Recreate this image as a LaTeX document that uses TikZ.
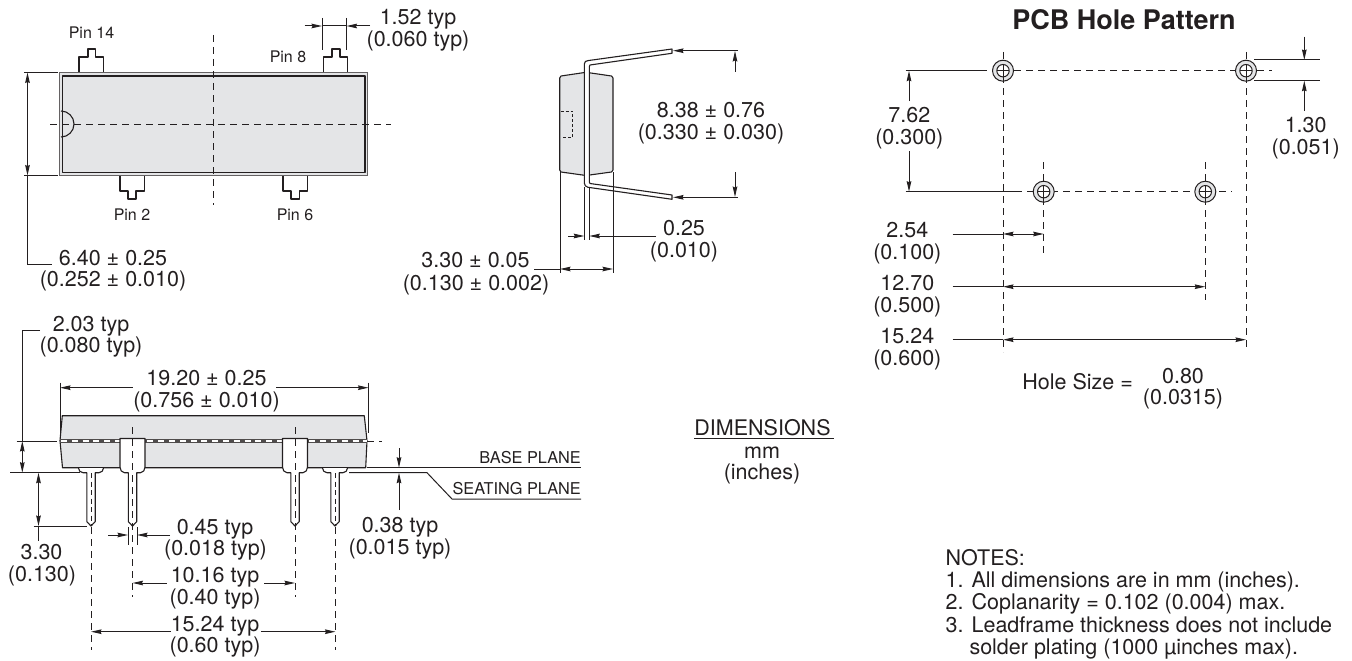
\documentclass[tikz,border=0pt]{standalone}
\usepackage{fontspec}
\setmainfont{TeX Gyre Heros}
\usetikzlibrary{arrows.meta}
\definecolor{bodyfill}{HTML}{E4E5E7}
\definecolor{ink}{HTML}{231F20}
\tikzset{
 every path/.style={ink},
 dim/.style={draw=ink,line width=1pt,-{Stealth[length=10.5pt,width=4.6pt,inset=1pt]}},
 dimboth/.style={draw=ink,line width=1pt,{Stealth[length=10.5pt,width=4.6pt,inset=1pt]}-{Stealth[length=10.5pt,width=4.6pt,inset=1pt]}},
 thin line/.style={draw=ink,line width=1pt},
 centre/.style={draw=ink,line width=1pt,dash pattern=on 7pt off 5pt},
 part/.style={draw=ink,line width=1.1pt,line join=round},
 lab/.style={inner sep=0pt,text=ink,font=\fontsize{21.5}{22}\selectfont,align=center,text height=15.5pt,text depth=0pt},
 small/.style={inner sep=0pt,text=ink,font=\fontsize{16}{18}\selectfont,text height=11.5pt,text depth=0pt},
 plane/.style={inner sep=0pt,text=ink,font=\fontsize{16.3}{18}\selectfont,text height=11.7pt,text depth=0pt},
 note/.style={inner sep=0pt,text=ink,font=\fontsize{21.5}{22}\selectfont,anchor=base west,text height=15.5pt,text depth=0pt},
 hole/.pic={
  \fill[bodyfill,draw=ink,line width=1pt] (0,0) circle (10.5);
  \fill[white,draw=ink,line width=1pt] (0,0) circle (6.2);
  \draw[ink,line width=.8pt] (-6,0)--(6,0) (0,-6)--(0,11);
 }
}
\begin{document}
\begin{tikzpicture}[x=1pt,y=-1pt]
\useasboundingbox (0,0) rectangle (1352,661);
%--------- top view
\draw[part] (79,72.5)--(79,57)--(88,57)--(88,49)--(95.5,49)--(95.5,57)--(103.5,57)--(103.5,72.5);
\draw[part] (323.5,72.5)--(323.5,57)--(332,57)--(332,49)--(340,49)--(340,57)--(347.5,57)--(347.5,72.5);
\draw[part] (120,176)--(120,191)--(128,191)--(128,199)--(136,199)--(136,191)--(144.5,191)--(144.5,176);
\draw[part] (283,176)--(283,191)--(291,191)--(291,199)--(299.5,199)--(299.5,191)--(307.5,191)--(307.5,176);
\draw[fill=bodyfill,draw=ink!70,line width=1.4pt] (59.7,72.7) rectangle (367.3,175.3);
\draw[part] (62.5,76) rectangle (365,172.5);
\draw[part] (61,111) arc[start angle=-90,end angle=90,radius=13];
\draw[centre] (213.5,35)--(213.5,205);
\draw[centre] (50,124)--(391,124);
\draw[thin line] (24,72.5)--(58,72.5) (24,175.5)--(58,175.5);
\coordinate (w1) at (27.5,264);
\draw[thin line] (27.5,175.5)--(w1)--(52,264);
\draw[dimboth] (27.5,72.5)--(27.5,175.5);
\draw[thin line] (322,18)--(322,50) (346.5,18)--(346.5,50);
\draw[thin line] (322,26)--(346.5,26);
\draw[dim] (304.5,26)--(322,26);
\draw[dim] (370,26)--(346.5,26);
\node[small] (p14) at (91.5,33) {Pin 14};
\node[small] (p8) at (288,57) {Pin 8};
\node[small] (p2) at (132,215) {Pin 2};
\node[small] (p6) at (295,215) {Pin 6};
\node[lab] (t152a) at (418,17) {1.52 typ};
\node[lab] (t152b) at (418,39) {(0.060 typ)};
\node[lab] (t640a) at (113,258) {6.40 ± 0.25};
\node[lab] (t640b) at (113,279) {(0.252 ± 0.010)};
%--------- side view
\draw[part,fill=bodyfill] (559.7,78)--(561,76)--(586,72.3)--(611.5,76)--(613,78)--(613,170)--(611.5,172)--(586,175.5)--(561,172)--(559.7,170)--cycle;
\draw[draw=ink,line width=.7pt,dash pattern=on 3pt off 2pt] (560.5,111)--(572.5,111)--(572.5,137)--(561,137);
\draw[part,fill=white] (672,49)--(588,60.6) to[out=172,in=90] (584.3,64)--(584.3,183) to[out=-90,in=170] (588,187.3)--(672,199.3)--(672,195)--(590,183.5) to[out=175,in=-90] (589.3,182)--(589.3,67) to[out=90,in=190] (590,65)--(672,53.3)--cycle;
\draw[part] (584.3,187)--(584.3,240) (589.3,187)--(589.3,240);
\draw[thin line] (560,172)--(560,272.7) (613,172)--(613,272.7);
\draw[thin line] (534,269)--(560,269);
\draw[dimboth] (560,269)--(613,269);
\draw[dim] (568,236)--(584.3,236);
\draw[dim] (656,236)--(589.3,236);
\draw[dim] (738,50.7)--(673,50.7);
\draw[dim] (738,197.3)--(673,197.3);
\draw[dim] (735,72)--(735,51);
\draw[dim] (735,172)--(735,197);
\node[lab] (t838a) at (711,110) {8.38 ± 0.76};
\node[lab] (t838b) at (711,132) {(0.330 ± 0.030)};
\node[lab] (t025a) at (684,228) {0.25};
\node[lab] (t025b) at (684,250) {(0.010)};
\node[lab] (t330a) at (475.5,260) {3.30 ± 0.05};
\node[lab] (t330b) at (476,283) {(0.130 ± 0.002)};
%--------- front view
\draw[part,fill=bodyfill] (62.3,415.7)--(364.3,415.7)--(367,440.7)--(365.7,467.7)--(62.5,467.7)--(60,440.7)--cycle;
\fill[ink!80] (60,438.7) rectangle (367,442.9);
\draw[white,line width=1.5pt,dash pattern=on 6pt off 4.8pt] (61,440.8)--(367,440.8);
% small pins
\foreach \c in {91,335}{
 \draw[part,fill=white] (\c-12.5,468) to[out=-90,in=180] (\c-8,472.7)--(\c-4.2,472.7)--(\c-4.2,521.7)--(\c,526)--(\c+4.2,521.7)--(\c+4.2,472.7)--(\c+8,472.7) to[out=0,in=-90] (\c+12.5,468);
 \draw[draw=ink,line width=1pt,dash pattern=on 5pt off 3.5pt] (\c,473)--(\c,526);
}
% large pins
\foreach \c in {132.5,295}{
 \draw[part,fill=white] (\c-12.5,438.5)--(\c-12.5,467) to[out=-90,in=180] (\c-8,472.7)--(\c-4.2,472.7)--(\c-4.2,521.7)--(\c,526)--(\c+4.2,521.7)--(\c+4.2,472.7)--(\c+8,472.7) to[out=0,in=-90] (\c+12.5,467)--(\c+12.5,438.5)--cycle;
 \draw[centre] (\c,427)--(\c,596.7);
}
\draw[centre] (91,527)--(91,650);
\draw[centre] (335,527)--(335,650);
\draw[centre] (367,441)--(382,441);
\draw[thin line] (367,467.7)--(581,467.7);
\draw[thin line] (349,472.7)--(427,472.7)--(452,499)--(581,499);
\draw[thin line] (10,472.7)--(80,472.7);
\draw[thin line] (16.5,441)--(56.5,441);
\draw[thin line] (40,330.7)--(22.3,330.7)--(22.3,441);
\draw[dimboth] (22.3,441)--(22.3,472.7);
\draw[dimboth] (38.5,472.7)--(38.5,526);
\draw[thin line] (38.5,526)--(38.5,541) (33.5,526)--(86.5,526);
\draw[thin line] (60,382.7)--(60,433) (368.5,382.7)--(368.5,433);
\draw[dim] (132.7,387.7)--(60,387.7);
\draw[dim] (276,387.7)--(368.5,387.7);
\draw[dim] (399,448)--(399,467.7);
\draw[dim] (399,510)--(399,472.7);
\draw[thin line] (128,527)--(128,545) (137,527)--(137,545);
\draw[dim] (108,535)--(128,535);
\draw[dim] (170,535)--(137,535);
\draw[dim] (166.5,583)--(132.5,583);
\draw[dim] (264,583)--(295,583);
\draw[dim] (171,631.7)--(91,631.7);
\draw[dim] (260.8,631.7)--(335.5,631.7);
\node[lab] (t203a) at (91,324) {2.03 typ};
\node[lab] (t203b) at (91,345) {(0.080 typ)};
\node[lab] (t192a) at (206.5,378) {19.20 ± 0.25};
\node[lab] (t192b) at (206.5,400) {(0.756 ± 0.010)};
\node[plane,anchor=east] (base) at (581,458) {BASE PLANE};
\node[plane,anchor=east] (seat) at (581,489) {SEATING PLANE};
\node[lab] (t038a) at (400,525) {0.38 typ};
\node[lab] (t038b) at (400,547) {(0.015 typ)};
\node[lab] (t045a) at (215,527) {0.45 typ};
\node[lab] (t045b) at (215.5,548) {(0.018 typ)};
\node[lab] (t330c) at (41.5,551.7) {3.30};
\node[lab] (t330d) at (42,574) {(0.130)};
\node[lab] (t1016a) at (215,575) {10.16 typ};
\node[lab] (t1016b) at (215,597) {(0.40 typ)};
\node[lab] (t1524a) at (215,623.5) {15.24 typ};
\node[lab] (t1524b) at (215,645) {(0.60 typ)};
\node[lab] (dima) at (762.5,428) {DIMENSIONS};
\draw[draw=ink,line width=1.1pt] (dima.south west)+(0,2.2)--+(140,2.2);
\node[lab] (dimb) at (762,450.7) {mm};
\node[lab] (dimc) at (762,472) {(inches)};
%--------- PCB
\node[inner sep=0pt,text=ink,font=\fontsize{27}{28}\selectfont\bfseries] (title) at (1124,19.5) {PCB Hole Pattern};
\draw[centre] (1003,52)--(1003,352);
\draw[centre] (1246,52)--(1246,350);
\draw[centre] (1043.7,162)--(1043.7,255.7);
\draw[centre] (1205.3,162)--(1205.3,300);
\draw[thin line] (905.7,70.7)--(986.7,70.7);
\draw[centre] (1014,70.7)--(1237,70.7) (1257,70.7)--(1271.7,70.7);
\draw[thin line] (905.7,191.7)--(1015,191.7);
\draw[centre] (1015,191.7)--(1231.7,191.7);
\pic at (1003,70.7) {hole};
\pic at (1246,70.7) {hole};
\pic at (1043.7,191.7) {hole};
\pic at (1205.3,191.7) {hole};
\draw[dim] (909,101)--(909,70.7);
\draw[dim] (909,151)--(909,191.7);
\draw[thin line] (1254,60)--(1320,60) (1254,80.7)--(1320,80.7);
\draw[dim] (1304.3,36.7)--(1304.3,60);
\draw[dim] (1304.3,111)--(1304.3,80.7);
\draw[thin line] (952.7,234)--(1003,234);
\draw[dimboth] (1003,234)--(1043.7,234);
\draw[thin line] (952.7,286.7)--(1003,286.7);
\draw[dimboth] (1003,286.7)--(1205.3,286.7);
\draw[thin line] (952.7,339.7)--(1003,339.7);
\draw[dimboth] (1003,339.7)--(1246,339.7);
\node[lab] (t762a) at (909.3,114.3) {7.62};
\node[lab] (t762b) at (909.3,137) {(0.300)};
\node[lab] (t130a) at (1305.7,124.7) {1.30};
\node[lab] (t130b) at (1305.7,147) {(0.051)};
\node[lab] (t254a) at (907.3,230) {2.54};
\node[lab] (t254b) at (907.3,252) {(0.100)};
\node[lab] (t1270a) at (907.3,283) {12.70};
\node[lab] (t1270b) at (907.3,305) {(0.500)};
\node[lab] (t1524c) at (907.3,335.5) {15.24};
\node[lab] (t1524d) at (907.3,358) {(0.600)};
\node[lab] (hs) at (1077.7,381.7) {Hole Size =};
\node[lab] (hsa) at (1183,375.7) {0.80};
\node[lab] (hsb) at (1183,396.7) {(0.0315)};
%--------- notes
\node[note] (n0) at (945.5,565.7) {NOTES:};
\node[note] (n1) at (945.5,587.7) {1. All dimensions are in mm (inches).};
\node[note] (n2) at (945.5,609.3) {2. Coplanarity = 0.102 (0.004) max.};
\node[note] (n3) at (945.5,632.3) {3. Leadframe thickness does not include};
\node[note] (n4) at (969.3,654.3) {solder plating (1000 µinches max).};
\end{tikzpicture}
\end{document}
